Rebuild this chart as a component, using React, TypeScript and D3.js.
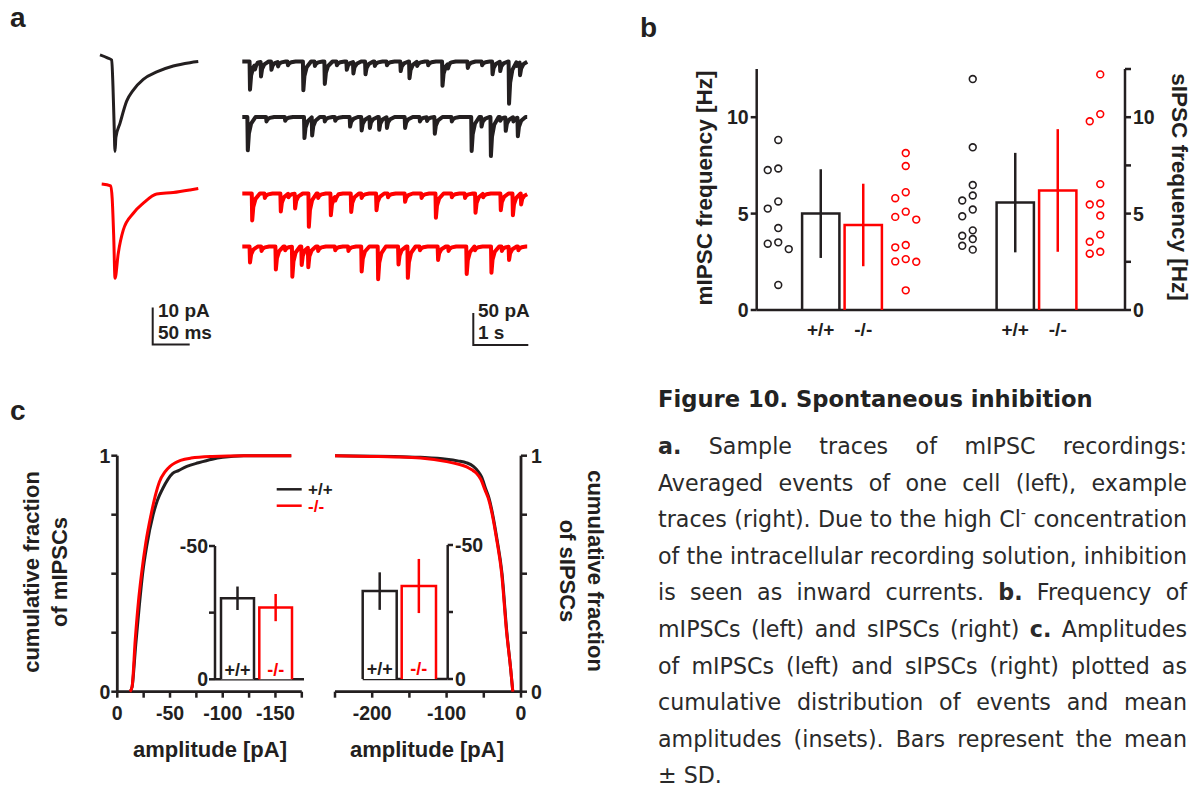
import React, { useMemo } from 'react';
import * as d3 from 'd3';

const INK = '#231f20';
const RED = '#ff0000';
const SANS = "'Liberation Sans', Arial, Helvetica, sans-serif";
const CAP = "'DejaVu Sans', Verdana, sans-serif";

// ===================== Panel a : averaged events (ms, pA) =====================
const avgWT_ms = [0, 10, 15.8, 17.5, 19, 20.3, 21.5, 27, 36, 45, 58.5, 76.6, 99, 121.6, 132.8];
const avgWT_pA = [0.3, -0.5, -1.1, -8, -18, -25.8, -22, -18.2, -12.2, -9.2, -6.3, -4.3, -2.7, -1.8, -1.5];
const avgKO_ms = [2.3, 14.5, 16.5, 18.5, 20.3, 24.7, 31.5, 45, 58.5, 76.6, 99, 121.6, 132.8];
const avgKO_pA = [0, -0.5, -4, -14, -25.5, -18.7, -12.4, -7.9, -5.2, -2.7, -2.3, -1.6, -1.2];

// Example sweeps: event times (s) and inward peak amplitudes (pA)
const sweepLength = 5.18;
const sweepWT1_t = [0.14, 0.34, 0.53, 1.11, 1.5, 1.9, 2.02, 2.24, 2.88, 3.04, 3.64, 4.1, 4.55, 4.69, 4.85, 5.05,
  0.23, 0.65, 0.83, 1.32, 1.72, 2.41, 2.63, 3.18, 3.38, 3.74, 4.36, 4.99];
const sweepWT1_a = [44, 23, 13, 45, 35, 13, 18, 20, 15, 26, 38, 10, 20, 15, 66, 20,
  7, 7, 6, 7, 6, 7, 6, 7, 6, 7, 6, 7];
const sweepWT2_t = [0.1, 1.13, 1.27, 1.96, 2.17, 2.32, 2.49, 2.63, 2.96, 3.5, 4.17, 4.35, 4.52, 4.79, 5.01,
  0.44, 0.78, 1.5, 1.69, 3.23, 3.36, 3.81, 4.69, 4.93];
const sweepWT2_a = [52, 33, 29, 15, 21, 17, 20, 17, 17, 26, 53, 15, 61, 21, 29,
  7, 6, 7, 6, 7, 6, 7, 6, 7];
const sweepKO1_t = [0.18, 0.7, 0.96, 1.21, 1.61, 1.98, 2.44, 2.96, 3.52, 4.24, 4.7, 4.92, 5.07,
  0.41, 0.84, 1.38, 1.69, 2.17, 2.65, 3.26, 3.81, 4.05, 4.38];
const sweepKO1_a = [42, 28, 23, 52, 34, 29, 26, 13, 38, 30, 26, 34, 17,
  7, 6, 7, 6, 7, 6, 7, 6, 7, 6];
const sweepKO2_t = [0.14, 0.61, 0.91, 1.08, 1.2, 2.17, 2.47, 2.84, 3.01, 3.56, 4.08, 4.53, 4.85,
  0.35, 0.78, 1.38, 1.69, 1.93, 3.23, 3.75, 4.23, 4.72, 5.02];
const sweepKO2_a = [25, 36, 47, 29, 31, 39, 51, 28, 49, 21, 43, 41, 21,
  7, 6, 7, 6, 7, 6, 7, 6, 7, 6];

// ===================== Panel b : frequencies (Hz) =====================
const genotypes = ['+/+', '-/-'];
const mipscFreqWT = [8.82, 7.34, 7.26, 5.63, 5.26, 4.25, 3.51, 3.44, 3.16, 1.3];
const mipscFreqKO = [8.14, 7.47, 6.11, 5.8, 5.1, 4.83, 4.69, 3.37, 3.25, 2.64, 2.52, 2.5, 1.02];
const sipscFreqWT = [11.98, 8.44, 6.48, 5.94, 5.68, 5.21, 4.86, 4.13, 3.85, 3.68, 3.33, 3.13];
const sipscFreqKO = [12.22, 10.16, 9.79, 6.53, 5.52, 5.47, 4.9, 3.91, 3.54, 3.02, 2.92];
const mipscFreqMean = [5.0, 4.41];
const mipscFreqSD = [2.3, 2.14];
const sipscFreqMean = [5.57, 6.2];
const sipscFreqSD = [2.58, 3.18];
const freqTicks = [0, 5, 10];
const freqMinorTicks = [0, 2.5, 5, 7.5, 10, 12.5];

// ===================== Panel c : amplitudes =====================
const mAmpWT = [-12, -14, -17.5, -21, -24, -28, -34, -38, -43, -48, -52.5, -58, -66, -77, -90, -100, -120, -165];
const mFracWT = [0, 0.02, 0.2, 0.37, 0.5, 0.62, 0.75, 0.81, 0.86, 0.9, 0.925, 0.937, 0.955, 0.97, 0.985, 0.993, 1, 1];
const mAmpKO = [-12, -14, -17, -20, -23, -27, -32, -36, -40, -45, -50, -55, -60, -70, -90, -120, -165];
const mFracKO = [0, 0.02, 0.22, 0.38, 0.5, 0.63, 0.75, 0.83, 0.89, 0.93, 0.955, 0.97, 0.98, 0.99, 0.997, 1, 1];
const sAmpWT = [-11, -14, -19, -25.5, -32.5, -38, -43, -47.5, -53, -58, -64, -73, -85, -100, -135, -170, -250];
const sFracWT = [0, 0.1, 0.25, 0.5, 0.65, 0.75, 0.82, 0.86, 0.91, 0.935, 0.955, 0.97, 0.978, 0.985, 0.993, 0.997, 1];
const sAmpKO = [-11, -14, -19.3, -26, -33, -38.6, -44, -48.4, -54, -59.6, -66, -73, -85, -100, -135, -170, -203, -250];
const sFracKO = [0, 0.1, 0.25, 0.5, 0.65, 0.75, 0.82, 0.855, 0.9, 0.925, 0.94, 0.953, 0.965, 0.975, 0.99, 0.995, 0.997, 1];
const mAmpMean = [-30.4, -26.9];
const mAmpSD = [4.4, 5.1];
const sAmpMean = [-32.8, -34.7];
const sAmpSD = [7.0, 10.1];
const fracTicks = [0, 0.25, 0.5, 0.75, 1];
const fracLabels = [0, 1];
const mAmpTicks = [0, -25, -50, -75, -100, -125, -150, -175];
const mAmpLabels = [0, -50, -100, -150];
const sAmpTicks = [-250, -200, -150, -100, -50, 0];
const sAmpLabels = [-200, -100, 0];
const insetTicks = [0, -25, -50];
const insetLabels = [0, -50];

// ===================== Caption =====================
const captionTitle = 'Figure 10. Spontaneous inhibition';
const captionLines = [
  '*a.* Sample traces of mIPSC recordings:',
  'Averaged events of one cell (left), example',
  'traces (right). Due to the high Cl^- concentration',
  'of the intracellular recording solution, inhibition',
  'is seen as inward currents. *b.* Frequency of',
  'mIPSCs (left) and sIPSCs (right) *c.* Amplitudes',
  'of mIPSCs (left) and sIPSCs (right) plotted as',
  'cumulative distribution of events and mean',
  'amplitudes (insets). Bars represent the mean',
  '± SD.',
];

// ---------------------------------------------------------------------------
const kernelT = [-0.008, 0, 0.02, 0.06, 0.14];
const kernelV = [0, 1, 0.5, 0.2, 0];
const kernel = d3.scaleLinear().domain(kernelT).range(kernelV).clamp(true);

function sweepPoints(ts: number[], as: number[], len: number): [number, number][] {
  const knots = new Set<number>([0, len]);
  ts.forEach((t) => kernelT.forEach((k) => {
    const v = +(t + k).toFixed(4);
    if (v >= 0 && v <= len) knots.add(v);
  }));
  const times = Array.from(knots).sort((a, b) => a - b);
  return times.map((tt) => {
    let s = 0;
    ts.forEach((t, i) => {
      const d = tt - t;
      if (d > kernelT[0] && d < kernelT[kernelT.length - 1]) s += as[i] * kernel(d);
    });
    return [tt, -s];
  });
}

function swarm(values: number[], y: (v: number) => number, r: number) {
  const placed: { s: number; y: number }[] = [];
  const sorted = [...values].sort((a, b) => b - a);
  return sorted.map((v) => {
    const py = y(v);
    for (const s of [0, -1, 1, -2, 2]) {
      if (!placed.some((p) => p.s === s && Math.abs(p.y - py) < 2 * r + 1.2)) {
        placed.push({ s, y: py });
        return { v, s, y: py };
      }
    }
    return { v, s: 0, y: py };
  });
}

type Seg = { text: string; bold: boolean; sup: boolean };

function parseWord(w: string): Seg[] {
  if (w.startsWith('*') && w.endsWith('*')) return [{ text: w.slice(1, -1), bold: true, sup: false }];
  if (w.includes('^')) {
    const [a, b] = w.split('^');
    return [{ text: a, bold: false, sup: false }, { text: b, bold: false, sup: true }];
  }
  return [{ text: w, bold: false, sup: false }];
}

export default function App() {
  // ---------- panel a scales ----------
  const xAvg = d3.scaleLinear().domain([0, 50]).range([100, 137]);
  const yAvgWT = d3.scaleLinear().domain([0, -10]).range([56, 93]);
  const yAvgKO = d3.scaleLinear().domain([0, -10]).range([184, 221]);
  const xSw = d3.scaleLinear().domain([0, 1]).range([242.3, 297.3]);
  const swBase = [61.5, 117, 193.5, 246.5];
  const ySw = swBase.map((b) => d3.scaleLinear().domain([0, -50]).range([b, b + 32]));

  const avgLine = (ys: d3.ScaleLinear<number, number>) =>
    d3.line<[number, number]>().x((d) => xAvg(d[0])).y((d) => ys(d[1])).curve(d3.curveMonotoneX);
  const avgWTPath = avgLine(yAvgWT)(avgWT_ms.map((t, i) => [t, avgWT_pA[i]]));
  const avgKOPath = avgLine(yAvgKO)(avgKO_ms.map((t, i) => [t, avgKO_pA[i]]));

  const sweeps = [
    { t: sweepWT1_t, a: sweepWT1_a, c: INK },
    { t: sweepWT2_t, a: sweepWT2_a, c: INK },
    { t: sweepKO1_t, a: sweepKO1_a, c: RED },
    { t: sweepKO2_t, a: sweepKO2_a, c: RED },
  ].map((s, i) => {
    const pts = sweepPoints(s.t, s.a, sweepLength);
    const p = d3.line<[number, number]>().x((d) => xSw(d[0])).y((d) => ySw[i](d[1]))(pts);
    return { p, c: s.c };
  });

  // ---------- panel b ----------
  const yF = d3.scaleLinear().domain([0, 12.5]).range([310, 69]);
  const xGroup = d3.scalePoint<string>().domain(['mIPSC', 'sIPSC']).range([842, 1036.5]);
  const xItem = d3.scalePoint<string>().domain(['dotsWT', 'barWT', 'barKO', 'dotsKO']).range([-63.75, 63.75]);
  const barW = 37.3;
  const dotR = 3.4;
  const freqGroups = [
    { g: 'mIPSC', wt: mipscFreqWT, ko: mipscFreqKO, mean: mipscFreqMean, sd: mipscFreqSD },
    { g: 'sIPSC', wt: sipscFreqWT, ko: sipscFreqKO, mean: sipscFreqMean, sd: sipscFreqSD },
  ];
  const axL = 756.7;
  const axR = 1125;

  // ---------- panel c ----------
  const yC = d3.scaleLinear().domain([0, 1]).range([691.7, 455.7]);
  const xCL = d3.scaleLinear().domain([0, -175]).range([117.3, 301.8]);
  const xCR = d3.scaleLinear().domain([-250, 0]).range([335, 521]);
  const yInL = d3.scaleLinear().domain([0, -50]).range([679.3, 546]);
  const yInR = d3.scaleLinear().domain([0, -50]).range([679, 545]);
  const sortPts = (a: number[], f: number[]) => a.map((v, i) => [v, f[i]] as [number, number]);
  const cdfL = d3.line<[number, number]>().x((d) => xCL(d[0])).y((d) => yC(d[1])).curve(d3.curveMonotoneX);
  const cdfR = d3.line<[number, number]>().x((d) => xCR(d[0])).y((d) => yC(d[1])).curve(d3.curveMonotoneX);
  const mWTPath = cdfL(sortPts(mAmpWT, mFracWT));
  const mKOPath = cdfL(sortPts(mAmpKO, mFracKO));
  const sWTPath = cdfR(sortPts(sAmpWT, sFracWT).reverse());
  const sKOPath = cdfR(sortPts(sAmpKO, sFracKO).reverse());

  const insetL = { bars: [[221, 254], [259.3, 292]] };
  const insetR = { bars: [[362.7, 396.7], [401.7, 436]] };

  // ---------- caption layout ----------
  const caption = useMemo(() => {
    const canvas = document.createElement('canvas');
    const ctx = canvas.getContext('2d')!;
    const meas = (t: string, bold: boolean, size: number) => {
      ctx.font = `${bold ? 'bold ' : ''}${size}px ${CAP}`;
      return ctx.measureText(t).width;
    };
    const X0 = 658;
    const W = 529;
    const words = captionLines.map((l) => l.split(' ').map(parseWord));
    const natural = (size: number) =>
      words.map((ws) => {
        const wsW = ws.map((segs) => segs.reduce((s, g) => s + meas(g.text, g.bold, g.sup ? size * 0.65 : size), 0));
        return wsW.reduce((a, b) => a + b, 0) + meas(' ', false, size) * (ws.length - 1);
      });
    let size = 20;
    const nat = natural(size);
    const mx = Math.max(...nat.slice(0, -1));
    size = Math.min(24, (size * W) / mx);
    const spaceW = meas(' ', false, size);
    const out: { x: number; y: number; text: string; bold: boolean; sup: boolean; size: number }[] = [];
    const y0 = 454;
    const lh = 36.6;
    words.forEach((ws, li) => {
      const wsW = ws.map((segs) => segs.reduce((s, g) => s + meas(g.text, g.bold, g.sup ? size * 0.65 : size), 0));
      const total = wsW.reduce((a, b) => a + b, 0);
      const last = li === words.length - 1;
      const gap = last || ws.length < 2 ? spaceW : (W - total) / (ws.length - 1);
      let x = X0;
      ws.forEach((segs, wi) => {
        let sx = x;
        segs.forEach((g) => {
          const sz = g.sup ? size * 0.65 : size;
          out.push({ x: sx, y: y0 + li * lh - (g.sup ? size * 0.42 : 0), text: g.text, bold: g.bold, sup: g.sup, size: sz });
          sx += meas(g.text, g.bold, sz);
        });
        x += wsW[wi] + gap;
      });
    });
    const titleSize = 435 / meas(captionTitle, true, 1);
    return { out, titleSize };
  }, []);

  const T = { fontFamily: SANS, fontWeight: 700, fill: INK } as const;
  const TICK = 19.5;
  const TITLE = 22;

  return (
    <div>
      <svg width={1198} height={789} style={{ position: 'absolute', left: 0, top: 0, background: '#fff' }}>
        <rect width={1198} height={789} fill="#fff" />
        {/* panel letters */}
        <text x={10} y={27} fontSize={28} {...T}>a</text>
        <text x={640} y={37} fontSize={28} {...T}>b</text>
        <text x={10} y={420} fontSize={28} {...T}>c</text>

        {/* ===== panel a ===== */}
        <path d={avgWTPath!} fill="none" stroke={INK} strokeWidth={3} strokeLinejoin="round" />
        <path d={avgKOPath!} fill="none" stroke={RED} strokeWidth={3} strokeLinejoin="round" />
        {sweeps.map((s, i) => (
          <path key={i} d={s.p!} fill="none" stroke={s.c} strokeWidth={4} strokeLinejoin="round" />
        ))}
        {/* scale bars */}
        <path d={`M152.7,${344.5 - (yAvgWT(-10) - yAvgWT(0))} V344.5 h${xAvg(50) - xAvg(0)}`} fill="none" stroke={INK} strokeWidth={2} />
        <text x={158} y={317} fontSize={19} {...T}>10 pA</text>
        <text x={158} y={339} fontSize={19} {...T}>50 ms</text>
        <path d={`M473.3,${345 - (ySw[0](-50) - ySw[0](0))} V345 h${xSw(1) - xSw(0)}`} fill="none" stroke={INK} strokeWidth={2} />
        <text x={478} y={317} fontSize={19} {...T}>50 pA</text>
        <text x={478} y={339} fontSize={19} {...T}>1 s</text>

        {/* ===== panel b ===== */}
        <line x1={axL} x2={axL} y1={yF(12.5)} y2={yF(0)} stroke={INK} strokeWidth={2.5} />
        <line x1={axL} x2={axR} y1={yF(0)} y2={yF(0)} stroke={INK} strokeWidth={2.5} />
        <line x1={axR} x2={axR} y1={yF(12.5)} y2={yF(0)} stroke={INK} strokeWidth={2.5} />
        {freqTicks.map((t) => (
          <g key={'l' + t}>
            <line x1={axL - 6} x2={axL} y1={yF(t)} y2={yF(t)} stroke={INK} strokeWidth={2.5} />
            <text x={axL - 8} y={yF(t)} dy="0.36em" textAnchor="end" fontSize={TICK} {...T}>{t}</text>
          </g>
        ))}
        {freqMinorTicks.map((t) => (
          <line key={'r' + t} x1={axR} x2={axR + 6} y1={yF(t)} y2={yF(t)} stroke={INK} strokeWidth={2.5} />
        ))}
        {freqTicks.map((t) => (
          <text key={'rl' + t} x={axR + 8} y={yF(t)} dy="0.36em" fontSize={TICK} {...T}>{t}</text>
        ))}
        <text transform={`translate(704,188) rotate(-90)`} textAnchor="middle" dominantBaseline="central" fontSize={22.5} {...T}>mIPSC frequency [Hz]</text>
        <text transform={`translate(1179,187) rotate(90)`} textAnchor="middle" dominantBaseline="central" fontSize={22.5} {...T}>sIPSC frequency [Hz]</text>
        {freqGroups.map((G) => {
          const gx = xGroup(G.g)!;
          const dotsWT = swarm(G.wt, yF, dotR);
          const dotsKO = swarm(G.ko, yF, dotR);
          return (
            <g key={G.g}>
              {genotypes.map((gt, i) => {
                const cx = gx + xItem(i === 0 ? 'barWT' : 'barKO')!;
                const col = i === 0 ? INK : RED;
                return (
                  <g key={gt}>
                    <path d={`M${cx - barW / 2},${yF(0)} V${yF(G.mean[i])} H${cx + barW / 2} V${yF(0)}`} fill="none" stroke={col} strokeWidth={2.5} />
                    <line x1={cx} x2={cx} y1={yF(G.mean[i] + G.sd[i])} y2={yF(G.mean[i] - G.sd[i])} stroke={col} strokeWidth={2.5} />
                    <text x={cx} y={336} textAnchor="middle" fontSize={19} {...T}>{gt}</text>
                  </g>
                );
              })}
              {dotsWT.map((d, k) => (
                <circle key={'w' + k} cx={gx + xItem('dotsWT')! + d.s * 10.5} cy={d.y} r={dotR} fill="#fff" stroke={INK} strokeWidth={1.6} />
              ))}
              {dotsKO.map((d, k) => (
                <circle key={'k' + k} cx={gx + xItem('dotsKO')! + d.s * 10.5} cy={d.y} r={dotR} fill="#fff" stroke={RED} strokeWidth={1.6} />
              ))}
            </g>
          );
        })}

        {/* ===== panel c left ===== */}
        <line x1={xCL(0)} x2={xCL(0)} y1={yC(1)} y2={yC(0)} stroke={INK} strokeWidth={2.8} />
        <line x1={xCL(0)} x2={xCL(-175)} y1={yC(0)} y2={yC(0)} stroke={INK} strokeWidth={2.8} />
        {fracTicks.map((t) => (
          <line key={'cl' + t} x1={xCL(0) - 6} x2={xCL(0)} y1={yC(t)} y2={yC(t)} stroke={INK} strokeWidth={2.5} />
        ))}
        {fracLabels.map((t) => (
          <text key={'cll' + t} x={xCL(0) - 7} y={yC(t)} dy="0.36em" textAnchor="end" fontSize={TICK} {...T}>{t}</text>
        ))}
        {mAmpTicks.map((t) => (
          <line key={'cx' + t} x1={xCL(t)} x2={xCL(t)} y1={yC(0)} y2={yC(0) + 6} stroke={INK} strokeWidth={2.5} />
        ))}
        {mAmpLabels.map((t) => (
          <text key={'cxl' + t} x={xCL(t)} y={720} textAnchor="middle" fontSize={TICK} {...T}>{t}</text>
        ))}
        <text x={210} y={757} textAnchor="middle" fontSize={TITLE} {...T}>amplitude [pA]</text>
        <text transform="translate(44,572) rotate(-90)" textAnchor="middle" dominantBaseline="central" fontSize={TITLE} {...T}>
          <tspan x={0} dy="-0.6em">cumulative fraction</tspan>
          <tspan x={0} dy="1.3em">of mIPSCs</tspan>
        </text>
        <path d={mWTPath!} fill="none" stroke={INK} strokeWidth={3} />
        <path d={mKOPath!} fill="none" stroke={RED} strokeWidth={3} />
        {/* legend */}
        <line x1={276.7} x2={301.7} y1={489.3} y2={489.3} stroke={INK} strokeWidth={2.5} />
        <line x1={276.7} x2={301.7} y1={505.7} y2={505.7} stroke={RED} strokeWidth={2.5} />
        <text x={308} y={495} fontSize={17} {...T}>{genotypes[0]}</text>
        <text x={308} y={512} fontSize={17} {...T} fill={RED}>{genotypes[1]}</text>
        {/* left inset */}
        <line x1={215} x2={215} y1={yInL(-50)} y2={yInL(0)} stroke={INK} strokeWidth={2.5} />
        <line x1={215} x2={304} y1={yInL(0)} y2={yInL(0)} stroke={INK} strokeWidth={2.5} />
        {insetTicks.map((t) => (
          <line key={'il' + t} x1={209} x2={215} y1={yInL(t)} y2={yInL(t)} stroke={INK} strokeWidth={2.5} />
        ))}
        {insetLabels.map((t) => (
          <text key={'ill' + t} x={208} y={yInL(t)} dy="0.36em" textAnchor="end" fontSize={TICK} {...T}>{t}</text>
        ))}
        {insetL.bars.map(([a, b], i) => {
          const col = i === 0 ? INK : RED;
          const cx = (a + b) / 2;
          return (
            <g key={'ilb' + i}>
              <path d={`M${a},${yInL(0)} V${yInL(mAmpMean[i])} H${b} V${yInL(0)}`} fill="#fff" stroke={col} strokeWidth={2.5} />
              <line x1={cx} x2={cx} y1={yInL(mAmpMean[i] - mAmpSD[i])} y2={yInL(mAmpMean[i] + mAmpSD[i])} stroke={col} strokeWidth={2.5} />
              <text x={cx} y={676} textAnchor="middle" fontSize={18} {...T} fill={col}>{genotypes[i]}</text>
            </g>
          );
        })}

        {/* ===== panel c right ===== */}
        <line x1={xCR(0)} x2={xCR(0)} y1={yC(1)} y2={yC(0)} stroke={INK} strokeWidth={2.8} />
        <line x1={xCR(-250)} x2={xCR(0)} y1={yC(0)} y2={yC(0)} stroke={INK} strokeWidth={2.8} />
        {fracTicks.map((t) => (
          <line key={'cr' + t} x1={xCR(0)} x2={xCR(0) + 6} y1={yC(t)} y2={yC(t)} stroke={INK} strokeWidth={2.5} />
        ))}
        {fracLabels.map((t) => (
          <text key={'crl' + t} x={xCR(0) + 10} y={yC(t)} dy="0.36em" fontSize={TICK} {...T}>{t}</text>
        ))}
        {sAmpTicks.map((t) => (
          <line key={'crx' + t} x1={xCR(t)} x2={xCR(t)} y1={yC(0)} y2={yC(0) + 6} stroke={INK} strokeWidth={2.5} />
        ))}
        {sAmpLabels.map((t) => (
          <text key={'crxl' + t} x={xCR(t)} y={720} textAnchor="middle" fontSize={TICK} {...T}>{t}</text>
        ))}
        <text x={427} y={757} textAnchor="middle" fontSize={TITLE} {...T}>amplitude [pA]</text>
        <text transform="translate(583,571) rotate(90)" textAnchor="middle" dominantBaseline="central" fontSize={TITLE} {...T}>
          <tspan x={0} dy="-0.6em">cumulative fraction</tspan>
          <tspan x={0} dy="1.3em">of sIPSCs</tspan>
        </text>
        <path d={sWTPath!} fill="none" stroke={INK} strokeWidth={3} />
        <path d={sKOPath!} fill="none" stroke={RED} strokeWidth={3} />
        {/* right inset */}
        <line x1={447.7} x2={447.7} y1={yInR(-50)} y2={yInR(0)} stroke={INK} strokeWidth={2.5} />
        <line x1={362.7} x2={447.7} y1={yInR(0)} y2={yInR(0)} stroke={INK} strokeWidth={2.5} />
        {insetTicks.map((t) => (
          <line key={'ir' + t} x1={447.7} x2={453} y1={yInR(t)} y2={yInR(t)} stroke={INK} strokeWidth={2.5} />
        ))}
        {insetLabels.map((t) => (
          <text key={'irl' + t} x={455} y={yInR(t)} dy="0.36em" fontSize={TICK} {...T}>{t}</text>
        ))}
        {insetR.bars.map(([a, b], i) => {
          const col = i === 0 ? INK : RED;
          const cx = (a + b) / 2;
          return (
            <g key={'irb' + i}>
              <path d={`M${a},${yInR(0)} V${yInR(sAmpMean[i])} H${b} V${yInR(0)}`} fill="#fff" stroke={col} strokeWidth={2.5} />
              <line x1={cx} x2={cx} y1={yInR(sAmpMean[i] - sAmpSD[i])} y2={yInR(sAmpMean[i] + sAmpSD[i])} stroke={col} strokeWidth={2.5} />
              <text x={cx} y={675} textAnchor="middle" fontSize={18} {...T} fill={col}>{genotypes[i]}</text>
            </g>
          );
        })}

        {/* ===== caption ===== */}
        <text x={658} y={407} fontFamily={CAP} fontWeight={700} fontSize={caption.titleSize} fill="#222">{captionTitle}</text>
        {caption.out.map((s, i) => (
          <text key={'cap' + i} x={s.x} y={s.y} fontFamily={CAP} fontWeight={s.bold ? 700 : 400} fontSize={s.size} fill="#2a2a2a">{s.text}</text>
        ))}
      </svg>
    </div>
  );
}
